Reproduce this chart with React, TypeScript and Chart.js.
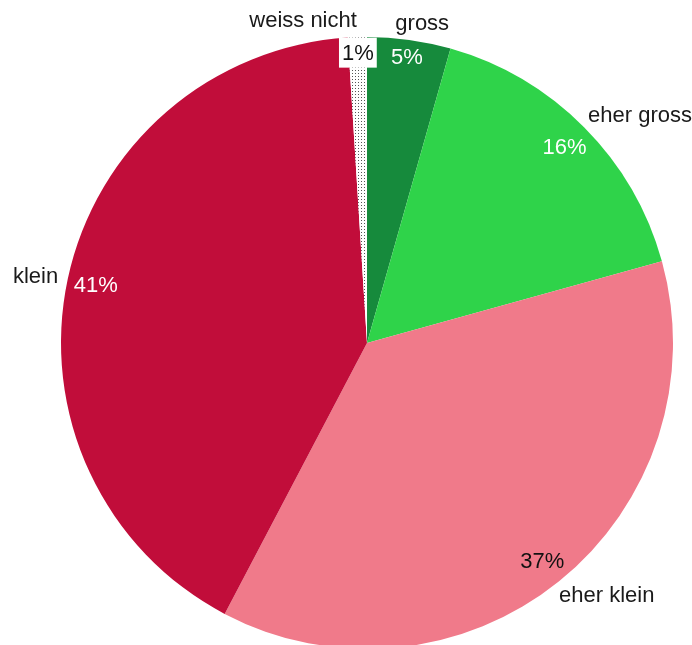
import React, { useEffect, useRef } from "react";
import { Chart, registerables } from "chart.js";

Chart.register(...registerables);

const categories = ["gross", "eher gross", "eher klein", "klein", "weiss nicht"];
const shares = [4.4, 16.3, 37.0, 41.3, 1.0];
const percentLabels = ["5%", "16%", "37%", "41%", "1%"];

const sliceColors = ["#168A3C", "#2FD34A", "#F07A8A", "#C10D3A", "pattern"];
const percentColors = ["#ffffff", "#ffffff", "#111111", "#ffffff", "#111111"];
const percentBoxed = [false, false, false, false, true];

const FONT = "22px 'Liberation Sans', Arial, sans-serif";

function makeDotPattern(ctx: CanvasRenderingContext2D) {
  const c = document.createElement("canvas");
  c.width = 3;
  c.height = 3;
  const p = c.getContext("2d")!;
  p.fillStyle = "#ffffff";
  p.fillRect(0, 0, 3, 3);
  p.fillStyle = "#555555";
  p.fillRect(1, 1, 1, 1);
  return ctx.createPattern(c, "repeat");
}

const labelPlugin = {
  id: "pieLabels",
  afterDatasetsDraw(chart: any) {
    const ctx: CanvasRenderingContext2D = chart.ctx;
    const meta = chart.getDatasetMeta(0);
    ctx.save();
    ctx.font = FONT;
    ctx.textBaseline = "middle";
    ctx.textAlign = "left";
    const h = 20;
    meta.data.forEach((arc: any, i: number) => {
      const { x, y, startAngle, endAngle, outerRadius } = arc.getProps(
        ["x", "y", "startAngle", "endAngle", "outerRadius"],
        true
      );
      const mid = (startAngle + endAngle) / 2;
      const ux = Math.cos(mid);
      const uy = Math.sin(mid);

      // inside percent label
      const pl = percentLabels[i];
      const pw = ctx.measureText(pl).width;
      const d = outerRadius - 5 - (h / 2) * Math.abs(uy) - (pw / 2) * Math.abs(ux);
      const cx = x + ux * d;
      const cy = y + uy * d;
      if (percentBoxed[i]) {
        ctx.fillStyle = "#ffffff";
        ctx.fillRect(cx - pw / 2 - 3, cy - h / 2 - 5, pw + 6, h + 10);
      }
      ctx.fillStyle = percentColors[i];
      ctx.fillText(pl, cx - pw / 2, cy + 1);

      // outside category label
      const name = categories[i];
      const nw = ctx.measureText(name).width;
      const R = outerRadius + 17;
      const ax = x + ux * R;
      const ay = y + uy * R;
      const f = ux < 0 ? 1 : (1 - ux) / 2;
      const shift = Math.abs(ux) < 0.1 ? 0 : 7;
      ctx.fillStyle = "#1a1a1a";
      ctx.fillText(name, ax - f * nw + shift, ay + 1);
    });
    ctx.restore();
  },
};

export default function App() {
  const ref = useRef<HTMLCanvasElement | null>(null);

  useEffect(() => {
    const canvas = ref.current!;
    const ctx = canvas.getContext("2d")!;
    const pattern = makeDotPattern(ctx);
    const bg = sliceColors.map((c) => (c === "pattern" ? pattern : c));
    const chart = new Chart(canvas, {
      type: "pie",
      data: {
        labels: categories,
        datasets: [
          {
            data: shares,
            backgroundColor: bg as any,
            borderWidth: 0,
            hoverOffset: 0,
          },
        ],
      },
      options: {
        responsive: false,
        animation: false,
        layout: { padding: { left: 61, right: 19, top: 37, bottom: 51 } },
        plugins: {
          legend: { display: false },
          tooltip: { enabled: false },
        },
      },
      plugins: [labelPlugin],
    });
    return () => chart.destroy();
  }, []);

  return (
    <div
      style={{
        position: "fixed",
        left: 0,
        top: 0,
        width: 692,
        height: 645,
        overflow: "hidden",
        background: "#ffffff",
      }}
    >
      <canvas ref={ref} width={692} height={700} style={{ display: "block" }} />
    </div>
  );
}
